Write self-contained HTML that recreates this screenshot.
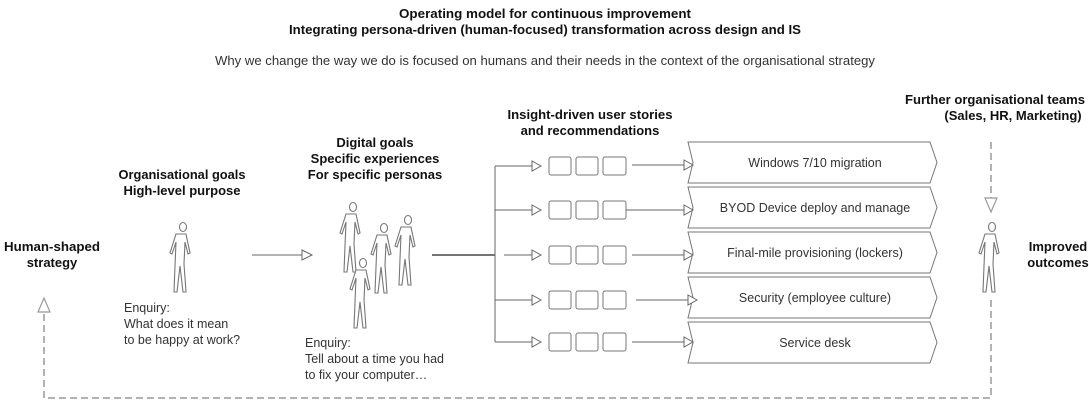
<!DOCTYPE html>
<html><head><meta charset="utf-8"><style>
html,body{margin:0;padding:0;background:#fff;}
svg{display:block;font-family:"Liberation Sans",Arial,sans-serif;}
.b{font-weight:bold;font-size:13px;fill:#111;text-anchor:middle;}
.r{font-size:12.5px;fill:#333;}
.c{font-size:12.5px;fill:#333;text-anchor:middle;}
.ln{stroke:#666;stroke-width:1;fill:none;}
.bx{stroke:#777;stroke-width:1;fill:#fff;}
.ah{stroke:#666;stroke-width:1;fill:#fff;}
.p{stroke:#777;stroke-width:1.1;fill:#fff;}
.d{stroke:#999;stroke-width:1.5;fill:none;stroke-dasharray:7,4;}
</style></head><body>
<svg width="1089" height="400" viewBox="0 0 1089 400">
<defs>
<g id="per">
<path class="p" d="M-4,12 L-10,31 L-8,32 L-4,20 L-5,44 L-6,70 L-3,70 L0,44 L3,70 L6,70 L4,42 L5,20 L8,32 L10,31 L6,12 Z"/>
<ellipse class="p" cx="3" cy="5" rx="3.5" ry="4.5"/>
</g>
<g id="ch"><path class="bx" d="M688,0 L930,0 L937,20.5 L930,41 L688,41 L693,20.5 Z"/></g>
</defs>
<text class="b" x="545" y="18" textLength="292" lengthAdjust="spacingAndGlyphs">Operating model for continuous improvement</text>
<text class="b" x="545" y="34" textLength="512" lengthAdjust="spacingAndGlyphs">Integrating persona-driven (human-focused) transformation across design and IS</text>
<text class="c" x="545" y="65" textLength="660" lengthAdjust="spacingAndGlyphs">Why we change the way we do is focused on humans and their needs in the context of the organisational strategy</text>

<text class="b" x="52" y="251" textLength="96" lengthAdjust="spacingAndGlyphs">Human-shaped</text>
<text class="b" x="52" y="267">strategy</text>
<text class="b" x="182" y="179" textLength="127" lengthAdjust="spacingAndGlyphs">Organisational goals</text>
<text class="b" x="182" y="195">High-level purpose</text>
<text class="b" x="375" y="147">Digital goals</text>
<text class="b" x="375" y="163">Specific experiences</text>
<text class="b" x="375" y="179">For specific personas</text>
<text class="b" x="590" y="119" textLength="165" lengthAdjust="spacingAndGlyphs">Insight-driven user stories</text>
<text class="b" x="590" y="135">and recommendations</text>
<text class="b" x="995" y="104" textLength="180" lengthAdjust="spacingAndGlyphs">Further organisational teams</text>
<text class="b" x="1013" y="120">(Sales, HR, Marketing)</text>
<text class="b" x="1058" y="251">Improved</text>
<text class="b" x="1058" y="267">outcomes</text>

<use href="#per" x="180" y="222"/>
<use href="#per" x="350" y="202"/>
<use href="#per" x="405" y="215"/>
<use href="#per" x="381" y="223"/>
<use href="#per" x="360" y="258"/>
<use href="#per" x="989" y="222"/>

<text class="r" x="124" y="312">Enquiry:</text>
<text class="r" x="124" y="328">What does it mean</text>
<text class="r" x="124" y="344">to be happy at work?</text>
<text class="r" x="305" y="347">Enquiry:</text>
<text class="r" x="305" y="363">Tell about a time you had</text>
<text class="r" x="305" y="379">to fix your computer…</text>

<line class="ln" x1="252" y1="255" x2="302" y2="255"/>
<path class="ah" d="M302,250 L312,255 L302,260 Z"/>
<line x1="432" y1="255" x2="495" y2="255" stroke="#222" stroke-width="1.3"/>
<line class="ln" x1="495" y1="166" x2="495" y2="342"/>

<g>
<line class="ln" x1="495" y1="166" x2="532" y2="166"/><path class="ah" d="M532,161 L541,166 L532,171 Z"/>
<line class="ln" x1="495" y1="210" x2="532" y2="210"/><path class="ah" d="M532,205 L541,210 L532,215 Z"/>
<line class="ln" x1="495" y1="300" x2="532" y2="300"/><path class="ah" d="M532,295 L541,300 L532,305 Z"/>
<line class="ln" x1="495" y1="342" x2="532" y2="342"/><path class="ah" d="M532,337 L541,342 L532,347 Z"/>
<line class="ln" x1="504" y1="255" x2="532" y2="255"/><path class="ah" d="M532,250 L541,255 L532,260 Z"/>
</g>

<g>
<rect class="bx" x="549" y="157" width="22" height="18" rx="2"/><rect class="bx" x="576" y="157" width="22" height="18" rx="2"/><rect class="bx" x="603" y="157" width="23" height="18" rx="2"/>
<rect class="bx" x="549" y="201" width="22" height="18" rx="2"/><rect class="bx" x="576" y="201" width="22" height="18" rx="2"/><rect class="bx" x="603" y="201" width="23" height="18" rx="2"/>
<rect class="bx" x="549" y="246" width="22" height="18" rx="2"/><rect class="bx" x="576" y="246" width="22" height="18" rx="2"/><rect class="bx" x="603" y="246" width="23" height="18" rx="2"/>
<rect class="bx" x="549" y="291" width="22" height="18" rx="2"/><rect class="bx" x="576" y="291" width="22" height="18" rx="2"/><rect class="bx" x="603" y="291" width="23" height="18" rx="2"/>
<rect class="bx" x="549" y="333" width="22" height="18" rx="2"/><rect class="bx" x="576" y="333" width="22" height="18" rx="2"/><rect class="bx" x="603" y="333" width="23" height="18" rx="2"/>
</g>

<use href="#ch" y="142"/>
<use href="#ch" y="187"/>
<use href="#ch" y="232"/>
<use href="#ch" y="277"/>
<use href="#ch" y="322"/>
<text class="c" x="815" y="167">Windows 7/10 migration</text>
<text class="c" x="815" y="212">BYOD Device deploy and manage</text>
<text class="c" x="815" y="257">Final-mile provisioning (lockers)</text>
<text class="c" x="815" y="302">Security (employee culture)</text>
<text class="c" x="815" y="347">Service desk</text>

<g>
<line class="ln" x1="632" y1="165" x2="684" y2="165"/><path class="ah" d="M684,160 L693,165 L684,170 Z"/>
<line class="ln" x1="626" y1="210" x2="684" y2="210"/><path class="ah" d="M684,205 L693,210 L684,215 Z"/>
<line class="ln" x1="632" y1="255" x2="684" y2="255"/><path class="ah" d="M684,250 L693,255 L684,260 Z"/>
<line class="ln" x1="636" y1="300" x2="688" y2="300"/><path class="ah" d="M688,295 L697,300 L688,305 Z"/>
<line class="ln" x1="632" y1="342" x2="684" y2="342"/><path class="ah" d="M684,337 L693,342 L684,347 Z"/>
</g>

<path class="d" d="M991,142 L991,198"/>
<path d="M985,198 L997,198 L991,212 Z" fill="#fff" stroke="#999" stroke-width="1.2"/>
<path class="d" d="M991,300 L991,398 L44,398 L44,312"/>
<path d="M38,312 L50,312 L44,298 Z" fill="#fff" stroke="#999" stroke-width="1.2"/>
</svg>
</body></html>
